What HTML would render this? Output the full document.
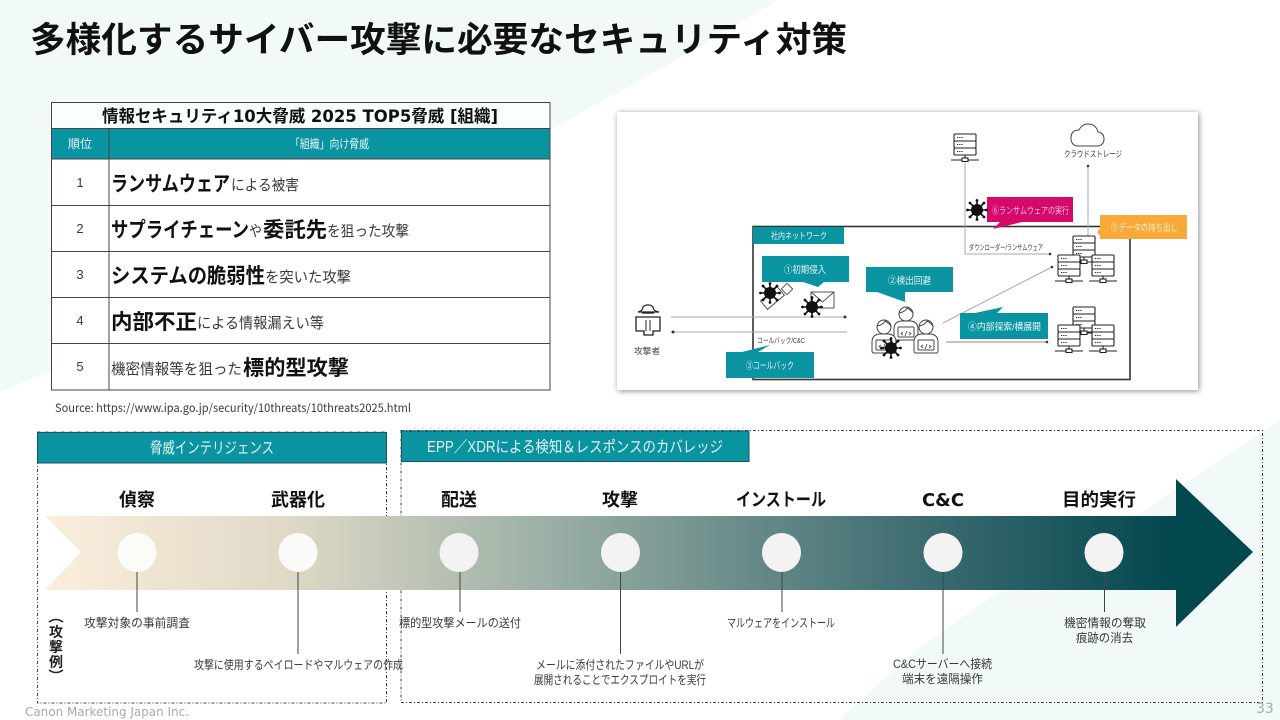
<!DOCTYPE html>
<html lang="ja"><head><meta charset="utf-8"><style>
html,body{margin:0;padding:0;background:#fff;width:1280px;height:720px;overflow:hidden}
svg{display:block}
text{font-family:"Liberation Sans","Noto Sans CJK JP",sans-serif;fill:#3a3a3a}
.n{font-family:"Noto Sans CJK JP",sans-serif}
.d{font-family:"DejaVu Sans","Noto Sans CJK JP",sans-serif}
.b{font-weight:700;fill:#111}
.w{fill:#e6f5f5}
.m{text-anchor:middle}
</style></head><body>
<svg width="1280" height="720" viewBox="0 0 1280 720" xmlns="http://www.w3.org/2000/svg">
<defs>
<linearGradient id="g" x1="45" x2="1253" y1="0" y2="0" gradientUnits="userSpaceOnUse">
<stop offset="0" stop-color="#fbeedd"/><stop offset=".2" stop-color="#dfd9c6"/><stop offset=".42" stop-color="#9aafa5"/><stop offset=".7" stop-color="#447175"/><stop offset=".93" stop-color="#04484f"/><stop offset="1" stop-color="#04484f"/>
</linearGradient>
<filter id="s" x="-5%" y="-5%" width="110%" height="110%"><feDropShadow dx="1" dy="1" stdDeviation="3" flood-color="#000" flood-opacity=".45"/></filter>
<g id="srv" fill="#fff" stroke="#222" stroke-width="1.100">
<rect x="0" y="0" width="22" height="7" rx="1"/><rect x="0" y="7" width="22" height="7" rx="1"/><rect x="0" y="14" width="22" height="7" rx="1"/>
<path d="M11 21v3M-3 26H8M14 26H25" fill="none"/><rect x="8" y="24" width="6" height="3.500"/>
<path d="M3 3.500h6M3 10.500h6M3 17.500h6" stroke-dasharray="1.200 1" fill="none"/>
</g>
<g id="vir" fill="#111">
<circle r="6"/>
<path d="M0-9V9M-9 0H9M-6.500-6.500 6.500 6.500M-6.500 6.500 6.500-6.500" stroke="#111" stroke-width="1.600"/>
<circle cx="0" cy="-9.500" r="1.400"/><circle cx="0" cy="9.500" r="1.400"/><circle cx="-9.500" cy="0" r="1.400"/><circle cx="9.500" cy="0" r="1.400"/><circle cx="-7" cy="-7" r="1.400"/><circle cx="7" cy="7" r="1.400"/><circle cx="-7" cy="7" r="1.400"/><circle cx="7" cy="-7" r="1.400"/>
</g>
<g id="usr" fill="#fff" stroke="#444" stroke-width="1">
<path d="M-12 24v-9q0-7 7-8h10q7 1 7 8v9q0 2-2 2H-10q-2 0-2-2z"/>
<rect x="-8" y="13" width="16" height="10" rx="1"/>
<circle cx="0" cy="0" r="7"/><path d="M-7-1q6-1 8-5q4 2 6 5" fill="none"/>
<path d="M-3 18l-2 1.500 2 1.500M3 18l2 1.500-2 1.500M1 17l-2 5" fill="none" stroke-width=".8"/>
</g>
</defs>

<rect width="1280" height="720" fill="#fff"/>
<path d="M0 0H778Q420 215 0 392Z" fill="#f1f9f9"/>
<path d="M1280 420V720H840Q920 640 1007 588L1140 513Z" fill="#f1f9f9"/>

<text x="30" y="52" class="b" font-size="35" textLength="817" lengthAdjust="spacingAndGlyphs">多様化するサイバー攻撃に必要なセキュリティ対策</text>

<!-- table -->
<rect x="51.500" y="102.500" width="498.500" height="26" fill="#fbfefe"/>
<rect x="51.500" y="128" width="498.500" height="31" fill="#0a94a1"/>
<rect x="51.500" y="159" width="498.500" height="231" fill="#fff"/>
<path d="M51.500 102.500H550V390H51.500ZM51.500 128.500H550M51.500 159H550M51.500 205.500H550M51.500 251.500H550M51.500 297.500H550M51.500 343.500H550M109 128V390" fill="none" stroke="#444" stroke-width="1"/>
<text x="102" y="122" class="b d" font-size="17" textLength="396" lengthAdjust="spacingAndGlyphs">情報セキュリティ10大脅威 2025 TOP5脅威 [組織]</text>
<text x="80" y="148" class="w m" font-size="12">順位</text>
<text x="290" y="148" class="w" font-size="12" textLength="79" lengthAdjust="spacingAndGlyphs">「組織」向け脅威</text>
<g font-size="13" text-anchor="middle"><text x="80" y="187">1</text><text x="80" y="233">2</text><text x="80" y="279">3</text><text x="80" y="325">4</text><text x="80" y="371">5</text></g>

<g font-size="15">
<text x="111" y="191" class="b" font-size="21" textLength="119" lengthAdjust="spacingAndGlyphs">ランサムウェア</text>
<text x="231" y="190" textLength="68" lengthAdjust="spacingAndGlyphs">による被害</text>
<text x="111" y="237" class="b" font-size="21" textLength="138" lengthAdjust="spacingAndGlyphs">サプライチェーン</text>
<text x="249" y="236" textLength="13" lengthAdjust="spacingAndGlyphs">や</text>
<text x="263" y="237" class="b" font-size="21" textLength="64" lengthAdjust="spacingAndGlyphs">委託先</text>
<text x="327" y="236" textLength="82" lengthAdjust="spacingAndGlyphs">を狙った攻撃</text>
<text x="111" y="283" class="b" font-size="21" textLength="154" lengthAdjust="spacingAndGlyphs">システムの脆弱性</text>
<text x="265" y="282" textLength="86" lengthAdjust="spacingAndGlyphs">を突いた攻撃</text>
<text x="111" y="329" class="b" font-size="21" textLength="86" lengthAdjust="spacingAndGlyphs">内部不正</text>
<text x="197" y="328" textLength="127" lengthAdjust="spacingAndGlyphs">による情報漏えい等</text>
<text x="111" y="374" textLength="131" lengthAdjust="spacingAndGlyphs">機密情報等を狙った</text>
<text x="243" y="375" class="b" font-size="21" textLength="106" lengthAdjust="spacingAndGlyphs">標的型攻撃</text>
</g>
<text x="55" y="412" class="n" font-size="11.500" textLength="356" lengthAdjust="spacingAndGlyphs">Source: https://www.ipa.go.jp/security/10threats/10threats2025.html</text>

<!-- right diagram -->
<rect x="617" y="112" width="581" height="278" fill="#fff" filter="url(#s)"/>
<rect x="753" y="226.500" width="377" height="153" fill="none" stroke="#333" stroke-width="1.600"/>
<rect x="753" y="227" width="91" height="17" fill="#0a94a1"/>
<text x="771" y="239" class="w" font-size="9" textLength="56" lengthAdjust="spacingAndGlyphs">社内ネットワーク</text>

<g fill="none" stroke="#aaa" stroke-width="1">
<path d="M965 163V254H1050"/><path d="M1088 166V236"/>
<path d="M671 317H845"/><path d="M672 332H847"/>
<path d="M943 323 1052 267"/><path d="M946 342H1047" stroke="#888"/>
</g>
<g fill="#333"><circle cx="1088" cy="166" r="1.300"/><circle cx="1050" cy="254" r="1.300"/><circle cx="845" cy="317" r="1.500"/><circle cx="673" cy="332" r="1.500"/><circle cx="1052" cy="267" r="1.300"/><circle cx="1047" cy="342" r="1.300"/></g>

<use href="#srv" x="954" y="134"/>
<path d="M1077 146h21q6-1 6-7 0-6-6-7-2-8-10-8-6 0-9 6-8 0-8 8 0 7 6 8z" fill="#fff" stroke="#444"/>
<text x="1064" y="157" font-size="8.500" textLength="58" lengthAdjust="spacingAndGlyphs">クラウドストレージ</text>

<path d="M987 197H1073V222H1022L993 229 1000 222H987Z" fill="#d6096a"/>
<text x="992" y="214" font-size="9.500" style="fill:#fbe" textLength="77" lengthAdjust="spacingAndGlyphs">⑥ランサムウェアの実行</text>
<use href="#vir" x="977" y="210" transform="translate(0,0)"/>

<path d="M1100 215H1187V239H1100V236L1097 232 1100 228Z" fill="#f8a937"/>
<text x="1111" y="231" font-size="9.500" style="fill:#fff2dc" textLength="67" lengthAdjust="spacingAndGlyphs">⑤データの持ち出し</text>
<text x="969" y="250" font-size="7.500" textLength="74" lengthAdjust="spacingAndGlyphs">ダウンローダー/ランサムウェア</text>

<path d="M1069 262H1103M1069 332H1103" stroke="#222" stroke-width="1"/>
<use href="#srv" x="1073" y="236"/><use href="#srv" x="1058" y="255"/><use href="#srv" x="1092" y="255"/>
<use href="#srv" x="1073" y="307"/><use href="#srv" x="1058" y="325"/><use href="#srv" x="1092" y="325"/>

<path d="M762 256H849V282H824L818 287 803 282H762Z" fill="#0a94a1"/>
<text x="784" y="273" class="w" font-size="9.500" textLength="42" lengthAdjust="spacingAndGlyphs">①初期侵入</text>
<path d="M866 267H953V292H905V302L877 292H866Z" fill="#0a94a1"/>
<text x="888" y="284" class="w" font-size="9.500" textLength="43" lengthAdjust="spacingAndGlyphs">②検出回避</text>
<path d="M726 352H742L770 345 758 352H814V378H726Z" fill="#0a94a1"/>
<text x="746" y="369" class="w" font-size="9.500" textLength="48" lengthAdjust="spacingAndGlyphs">③コールバック</text>
<path d="M960 313H975L1003 307 997 313H1048V339H960Z" fill="#0a94a1"/>
<text x="968" y="330" class="w" font-size="9.500" textLength="73" lengthAdjust="spacingAndGlyphs">④内部探索/横展開</text>
<text x="757" y="343" font-size="7.500" textLength="48" lengthAdjust="spacingAndGlyphs">コールバック/C&amp;C</text>

<!-- USB and mail -->
<rect x="763" y="292" width="22" height="11" fill="#fff" stroke="#555" transform="rotate(-40 774 300)"/>
<rect x="783" y="285" width="8" height="8" fill="#fff" stroke="#555" transform="rotate(45 787 289)"/>
<use href="#vir" x="770" y="293"/>
<rect x="811" y="292" width="23" height="16" fill="#fff" stroke="#555"/><path d="M811 292 822.500 302 834 292" fill="none" stroke="#555"/>
<use href="#vir" x="812" y="307"/>

<!-- attacker -->
<path d="M642 313H654" stroke="#222" stroke-width="1.300"/>
<path d="M638 312q3-1 4-2 1-5 5-5h2q4 0 5 5 1 1 5 2z" fill="#fff" stroke="#222" stroke-width="1.200"/>
<path d="M636 317H660V331H653V335H644V331H636Z" fill="#fff" stroke="#222" stroke-width="1.300"/>
<path d="M646 320V331M650 320V331" stroke="#222" stroke-width="1"/>
<text x="634" y="354" font-size="8.500" textLength="26" lengthAdjust="spacingAndGlyphs">攻撃者</text>

<use href="#usr" x="906" y="314"/><use href="#usr" x="884" y="327"/><use href="#usr" x="926" y="327"/>
<use href="#vir" x="891" y="348"/>

<!-- bottom section -->
<rect x="37.500" y="432" width="349" height="271" fill="none" stroke="#444" stroke-dasharray="3 2 1 2"/>
<rect x="401" y="430.500" width="861.500" height="272" fill="none" stroke="#444" stroke-dasharray="3 2 1 2"/>
<rect x="37.500" y="432.500" width="349" height="30.500" fill="#0a94a1" stroke="#1a5560"/>
<rect x="401.500" y="431" width="347.500" height="30.500" fill="#0a94a1" stroke="#1a5560"/>
<text x="150" y="453" class="w" font-size="15.500" textLength="124" lengthAdjust="spacingAndGlyphs">脅威インテリジェンス</text>
<text x="427" y="452" class="w" font-size="15.500" textLength="296" lengthAdjust="spacingAndGlyphs">EPP／XDRによる検知＆レスポンスのカバレッジ</text>

<path d="M45 516H1176V479L1253 552 1176 627V590H45L81 552Z" fill="url(#g)"/>

<g font-size="18" text-anchor="middle">
<text class="b" x="137" y="506">偵察</text><text class="b" x="298" y="506">武器化</text><text class="b" x="459" y="506">配送</text><text class="b" x="620" y="506">攻撃</text><text class="b" x="781" y="506" textLength="90" lengthAdjust="spacingAndGlyphs">インストール</text><text class="b d" x="943" y="506" textLength="42" lengthAdjust="spacingAndGlyphs">C&amp;C</text><text class="b" x="1099" y="506" textLength="74" lengthAdjust="spacingAndGlyphs">目的実行</text>
</g>
<g stroke="#444" stroke-width="1">
<path d="M137 572V612M298 572V654M460 572V612M620.500 572V654M782 572V612M943 572V654M1104.500 572V612"/>
</g>
<g><circle cx="137" cy="552.500" r="19.500" fill="#fbfbf8"/><circle cx="298" cy="552.500" r="19.500" fill="#fafaf8"/><circle cx="459" cy="552.500" r="19.500" fill="#f3f3f3"/><circle cx="620.500" cy="552.500" r="19.500" fill="#f3f3f3"/><circle cx="781.500" cy="552.500" r="19.500" fill="#f3f3f3"/><circle cx="943" cy="552.500" r="19.500" fill="#f3f3f3"/><circle cx="1104" cy="552.500" r="19.500" fill="#f3f3f3"/></g>

<g font-size="12">
<text x="84" y="627" textLength="106" lengthAdjust="spacingAndGlyphs">攻撃対象の事前調査</text>
<text x="194" y="669" textLength="209" lengthAdjust="spacingAndGlyphs">攻撃に使用するペイロードやマルウェアの作成</text>
<text x="399" y="627" textLength="122" lengthAdjust="spacingAndGlyphs">標的型攻撃メールの送付</text>
<text x="536" y="669" textLength="168" lengthAdjust="spacingAndGlyphs">メールに添付されたファイルやURLが</text>
<text x="534" y="684" textLength="172" lengthAdjust="spacingAndGlyphs">展開されることでエクスプロイトを実行</text>
<text x="727" y="627" textLength="108" lengthAdjust="spacingAndGlyphs">マルウェアをインストール</text>
<text x="893" y="668" textLength="99" lengthAdjust="spacingAndGlyphs">C&amp;Cサーバーへ接続</text>
<text x="902" y="683" textLength="81" lengthAdjust="spacingAndGlyphs">端末を遠隔操作</text>
<text x="1064" y="627" textLength="82" lengthAdjust="spacingAndGlyphs">機密情報の奪取</text>
<text x="1076" y="642" textLength="57" lengthAdjust="spacingAndGlyphs">痕跡の消去</text>
</g>
<g font-size="14" text-anchor="middle">
<text x="56" y="637" style="fill:#222;font-weight:700">攻</text><text x="56" y="652" style="fill:#222;font-weight:700">撃</text><text x="56" y="667" style="fill:#222;font-weight:700">例</text>
</g>
<path d="M63 622Q56 617 49 622M49 670Q56 675 63 670" fill="none" stroke="#222" stroke-width="1.500"/>

<text x="25" y="716" class="d" font-size="12" style="fill:#aaa" textLength="164" lengthAdjust="spacingAndGlyphs">Canon Marketing Japan Inc.</text>
<text x="1256" y="713" class="d" font-size="14" style="fill:#aaa">33</text>
</svg>
</body></html>
